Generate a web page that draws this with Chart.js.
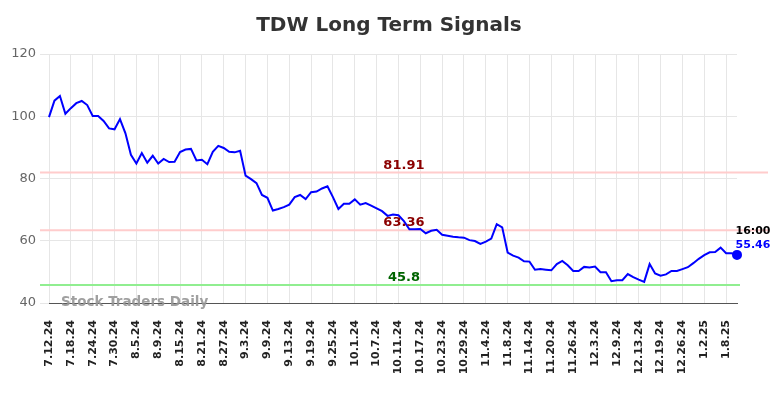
<!DOCTYPE html>
<html>
<head>
<meta charset="utf-8">
<script src="https://cdn.jsdelivr.net/npm/chart.js@4.4.1/dist/chart.umd.min.js"></script>
<style>
html,body{margin:0;padding:0;background:#fff;}
#wrap{width:784px;height:398px;position:relative;}
</style>
</head>
<body>
<div id="wrap"><canvas id="c" width="784" height="398"></canvas></div>
<script>
const titleText = "TDW Long Term Signals";
const watermark = "Stock Traders Daily";
const dates = [
"7.12.24","7.15.24","7.16.24","7.17.24","7.18.24","7.19.24","7.22.24","7.23.24","7.24.24","7.25.24",
"7.26.24","7.29.24","7.30.24","7.31.24","8.1.24","8.2.24","8.5.24","8.6.24","8.7.24","8.8.24",
"8.9.24","8.12.24","8.13.24","8.14.24","8.15.24","8.16.24","8.19.24","8.20.24","8.21.24","8.22.24",
"8.23.24","8.26.24","8.27.24","8.28.24","8.29.24","8.30.24","9.3.24","9.4.24","9.5.24","9.6.24",
"9.9.24","9.10.24","9.11.24","9.12.24","9.13.24","9.16.24","9.17.24","9.18.24","9.19.24","9.20.24",
"9.23.24","9.24.24","9.25.24","9.26.24","9.27.24","9.30.24","10.1.24","10.2.24","10.3.24","10.4.24",
"10.7.24","10.8.24","10.9.24","10.10.24","10.11.24","10.14.24","10.15.24","10.16.24","10.17.24","10.18.24",
"10.21.24","10.22.24","10.23.24","10.24.24","10.25.24","10.28.24","10.29.24","10.30.24","10.31.24","11.1.24",
"11.4.24","11.5.24","11.6.24","11.7.24","11.8.24","11.11.24","11.12.24","11.13.24","11.14.24","11.15.24",
"11.18.24","11.19.24","11.20.24","11.21.24","11.22.24","11.25.24","11.26.24","11.27.24","11.29.24","12.2.24",
"12.3.24","12.4.24","12.5.24","12.6.24","12.9.24","12.10.24","12.11.24","12.12.24","12.13.24","12.16.24",
"12.17.24","12.18.24","12.19.24","12.20.24","12.23.24","12.24.24","12.26.24","12.27.24","12.30.24","12.31.24",
"1.2.25","1.3.25","1.6.25","1.7.25","1.8.25","1.10.25","1.13.25"
];
const prices = [
99.7,105.0,106.5,100.8,102.6,104.2,104.9,103.6,100.1,100.1,
98.5,96.1,95.8,99.1,94.5,87.6,84.8,88.2,85.1,87.3,
84.8,86.3,85.3,85.4,88.5,89.3,89.5,85.8,86.0,84.6,
88.6,90.5,89.8,88.6,88.4,88.9,80.9,79.8,78.5,74.7,
73.8,69.7,70.2,70.8,71.6,74.0,74.7,73.4,75.6,75.8,
76.8,77.5,74.0,70.2,71.9,71.9,73.3,71.6,72.1,71.3,
70.4,69.5,68.0,68.4,68.2,66.3,63.7,63.7,63.8,62.4,
63.2,63.5,61.9,61.6,61.3,61.1,61.0,60.2,59.9,59.0,
59.7,60.7,65.3,64.3,56.2,55.2,54.6,53.4,53.3,50.7,
50.9,50.7,50.5,52.5,53.5,52.1,50.3,50.3,51.6,51.4,
51.7,49.9,49.9,47.0,47.3,47.3,49.3,48.3,47.5,46.8,
52.5,49.5,48.8,49.2,50.3,50.3,50.9,51.5,52.8,54.2,
55.4,56.3,56.4,57.8,56.0,56.0,55.46
];
const resistanceLevels = [81.91, 63.36];
const supportLevels = [45.8];
const lastTimeLabel = "16:00";
const yTicks = [40, 60, 80, 100, 120];
const labelEvery = 4;

const FONT = "'DejaVu Sans', sans-serif";

const overlay = {
  id: 'overlay',
  beforeDatasetsDraw(chart) {
    const {ctx, chartArea, scales} = chart;
    const y = scales.y;
    ctx.save();
    ctx.lineWidth = 2;
    resistanceLevels.forEach(v => {
      const py = y.getPixelForValue(v);
      ctx.strokeStyle = '#ffcccc';
      ctx.beginPath(); ctx.moveTo(chartArea.left - 9, py); ctx.lineTo(chart.width - 16, py); ctx.stroke();
    });
    supportLevels.forEach(v => {
      const py = y.getPixelForValue(v);
      ctx.strokeStyle = '#90ee90';
      ctx.beginPath(); ctx.moveTo(chartArea.left - 9, py); ctx.lineTo(chartArea.right + 3, py); ctx.stroke();
    });
    ctx.restore();
  },
  afterDatasetsDraw(chart) {
    const {ctx, chartArea, scales} = chart;
    const x = scales.x, y = scales.y;
    ctx.save();
    // title
    ctx.fillStyle = '#333333';
    ctx.font = "bold 20px " + FONT;
    ctx.textAlign = 'center';
    ctx.textBaseline = 'middle';
    ctx.fillText(titleText, chart.width / 2 - 3, 26);
    // watermark
    ctx.fillStyle = 'rgba(150,150,150,0.9)';
    ctx.font = "bold 13.5px " + FONT;
    ctx.textAlign = 'left';
    ctx.fillText(watermark, chartArea.left + 12, chartArea.bottom - 1);
    // level labels
    const lx = x.getPixelForValue(65);
    ctx.textAlign = 'center';
    ctx.textBaseline = 'alphabetic';
    ctx.font = "bold 13px " + FONT;
    resistanceLevels.forEach(v => {
      ctx.fillStyle = '#8b0000';
      ctx.fillText(v.toFixed(2), lx, y.getPixelForValue(v) - 4);
    });
    supportLevels.forEach(v => {
      ctx.fillStyle = '#006400';
      ctx.fillText(String(v), lx, y.getPixelForValue(v) - 4);
    });
    // last value labels
    const li = prices.length - 1;
    const px = x.getPixelForValue(li);
    const py = y.getPixelForValue(prices[li]);
    ctx.font = "bold 11px " + FONT;
    ctx.textAlign = 'center';
    ctx.fillStyle = '#000000';
    ctx.fillText(lastTimeLabel, px + 16, py - 21);
    ctx.fillStyle = '#0000ff';
    ctx.fillText(prices[li].toFixed(2), px + 16, py - 7);
    ctx.restore();
  }
};

new Chart(document.getElementById('c'), {
  type: 'line',
  data: {
    labels: dates,
    datasets: [{
      data: prices,
      borderColor: '#0000ff',
      backgroundColor: '#0000ff',
      borderWidth: 2,
      tension: 0,
      pointRadius: ctx => ctx.dataIndex === prices.length - 1 ? 4 : 0,
      pointHoverRadius: 0,
      fill: false
    }]
  },
  options: {
    responsive: false,
    animation: false,
    layout: { padding: { top: 54, right: 47, left: 0, bottom: 0 } },
    plugins: { legend: { display: false }, title: { display: false }, tooltip: { enabled: false } },
    scales: {
      x: {
        type: 'category',
        offset: false,
        grid: { color: '#e6e6e6', lineWidth: 1, drawTicks: false },
        border: { color: '#555555', width: 1 },
        afterFit: s => { s.height = 95; },
        ticks: {
          autoSkip: false,
          maxRotation: 90,
          minRotation: 90,
          padding: 17,
          color: '#222222',
          font: { family: FONT, size: 11, weight: 'bold' },
          callback: (val, idx) => idx % labelEvery === 0 ? dates[idx] : null
        }
      },
      y: {
        min: 40,
        max: 120,
        afterFit: s => { s.width = 49; },
        afterBuildTicks: s => { s.ticks = yTicks.map(v => ({ value: v })); },
        grid: { color: '#e6e6e6', lineWidth: 1, tickLength: 9 },
        border: { display: false },
        ticks: {
          color: '#666666',
          padding: 4,
          font: { family: FONT, size: 13 }
        }
      }
    }
  },
  plugins: [overlay]
});
</script>
</body>
</html>
